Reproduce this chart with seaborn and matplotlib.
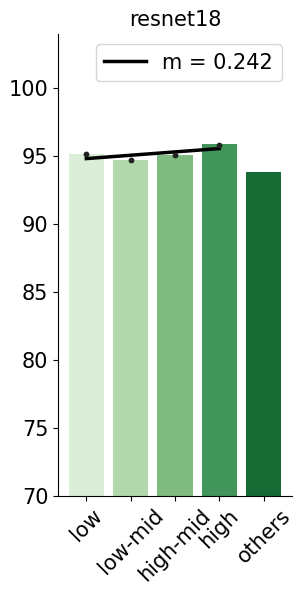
import numpy as np
import pandas as pd
import matplotlib
matplotlib.use("Agg")
import matplotlib.pyplot as plt
import seaborn as sns

categories = ["low", "low-mid", "high-mid", "high", "others"]
bar_values = [95.2, 94.75, 95.1, 95.9, 93.85]
point_values = [95.15, 94.72, 95.08, 95.85]
slope_label = "m = 0.242"
colors = ["#dbeed8", "#b0d8ab", "#7fbb80", "#41955a", "#166b34"]
title = "resnet18"

plt.rcParams['font.family'] = ['DejaVu Sans']

fig = plt.figure(figsize=(3.04, 5.95), dpi=100)
ax = fig.add_axes([58/304, 1 - 496/595, (292-58)/304, (496-34)/595])

df = pd.DataFrame({"cat": categories, "val": bar_values})
sns.barplot(data=df, x="cat", y="val", hue="cat", palette=colors, saturation=1,
            legend=False, ax=ax, order=categories, linewidth=0)

xs = np.arange(len(point_values))
ax.scatter(xs, point_values, color="#222222", s=10, zorder=5)
m, b = np.polyfit(xs, point_values, 1)
ax.plot(xs, m * xs + b, color="black", lw=2.5, zorder=4, label=slope_label)

ax.set_ylim(70, 104)
ax.set_yticks([70, 75, 80, 85, 90, 95, 100])
ax.set_xlabel("")
ax.set_ylabel("")
ax.set_title(title, fontsize=15)
ax.tick_params(axis="both", labelsize=15)
plt.setp(ax.get_xticklabels(), rotation=45)
ax.legend(fontsize=15, loc="upper right")
sns.despine(ax=ax)

fig.savefig("out.png", dpi=100)
